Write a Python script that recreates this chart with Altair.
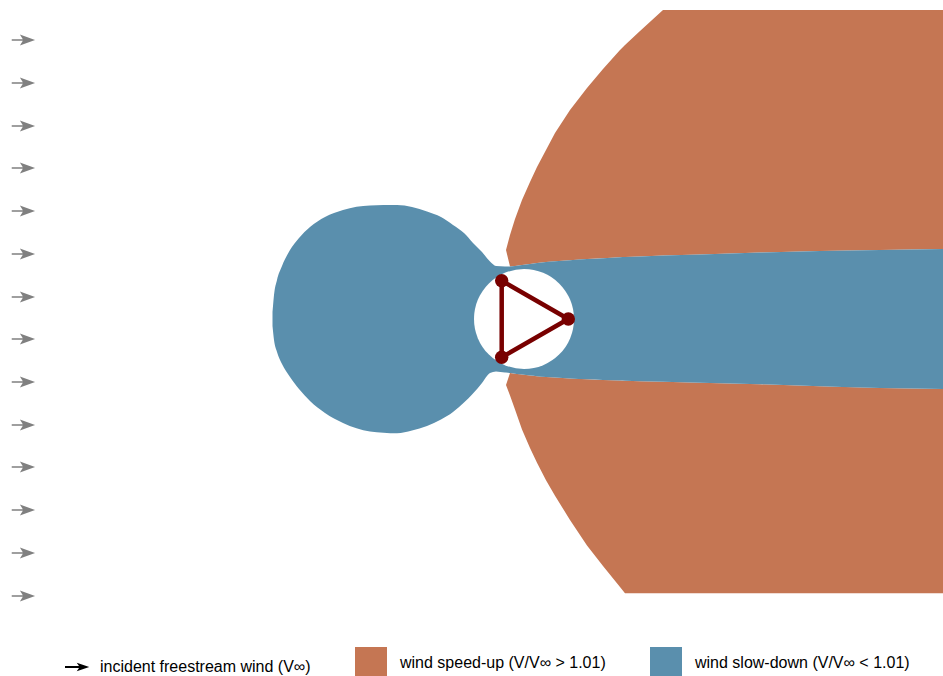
import altair as alt
import pandas as pd

# Plane around the three-turbine array, in metres relative to the array centre
# (x downstream, y lateral). One metre maps to one pixel of the plot area.
X_DOMAIN = [-524, 419]
Y_DOMAIN = [-357, 319]

# Legend categories and their colours
KINDS = [
    "incident freestream wind (V∞)",
    "wind speed-up (V/V∞ > 1.01)",
    "wind slow-down (V/V∞ < 1.01)",
]
COLORS = ["#000000", "#C57653", "#5A8FAD"]
SPEED_UP, SLOW_DOWN = COLORS[1], COLORS[2]

# Slow-down bulb upstream of the array, up to the neck beside the rotor disc
bulb_x = [-251.5, -250, -247, -242, -234, -225, -214, -199, -181, -154, -127,
          -112, -97, -83, -71, -60, -51, -42, -34, -28, -19]
bulb_top = [7, 24, 39, 53, 69, 81, 92, 102, 109, 113.5, 114,
            112, 107.5, 102, 94, 86, 76, 67, 57.5, 53, 52.5]
bulb_bot = [-7, -21, -33, -45, -58, -70, -82, -94, -104, -112.5, -114.3,
            -111.5, -107, -100.5, -93, -83.5, -74.5, -64, -54, -52.5, -53.5]

# Downstream wake (slow-down) edges
wake_x = [-18, -14, -9, -2, 6, 13, 22, 31, 46, 63, 79, 96, 101, 116, 139,
          176, 236, 296, 356, 419]
wake_top = [52.5, 52.5, 53, 54, 55, 56, 57, 57.7, 58.8, 60, 60.8, 61.7, 61.9,
            62.5, 63.4, 64.5, 66.5, 68, 69, 70]
wake_bot = [-53.5, -54, -54.7, -55.6, -56.5, -57.2, -58, -58.6, -59.5, -60.3,
            -61, -61.6, -61.8, -62.2, -62.8, -63.7, -65.3, -67.2, -69, -70]

# Outer edges of the two speed-up lobes on the wake grid, and the corner
# where each lobe meets the wake
north_outer = [69, 84, 100, 119, 137, 152, 169, 186, 209, 231, 250, 269, 274,
               288, 309, 309, 309, 309, 309, 309]
south_outer = [-66, -76.5, -90.5, -110.6, -129, -143.7, -161.3, -176.7, -201,
               -226.5, -247, -268.1, -274.3, -274.3, -274.3, -274.3, -274.3,
               -274.3, -274.3, -274.3]
north_corner = 69
south_corner = -66

# Cleared disc around the turbines and the turbine positions
clear_x, clear_y, clear_r = [0], [0], 50
turb_x = [-22.3, 44.3, -22.3]
turb_y = [38.3, 0, -38.3]

# Incident freestream arrows along the inflow boundary
arrow_x = [-500.6] * 14
arrow_y = [279, 236, 193, 151, 108, 65, 22, -20, -63, -106, -148, -191, -234, -277]

ARROW = "M-1,-0.065L-0.05,-0.065L-0.3,-0.47L1,0L-0.3,0.47L-0.05,0.065L-1,0.065Z"
KEY_ARROW = "M-0.375,-0.06L0.5,-0.06L0.36,-0.26L1.14,0L0.36,0.26L0.5,0.06L-0.375,0.06Z"
KEY_SHAPES = [KEY_ARROW, "square", "square"]

TURBINE = "#780000"
ARROW_GREY = "#808080"

# ---- tables ----
blue_df = pd.DataFrame({
    "x": bulb_x + wake_x,
    "top": bulb_top + wake_top,
    "bot": bulb_bot + wake_bot,
})
north_df = pd.DataFrame({
    "x": wake_x, "top": north_outer, "bot": [north_corner] + wake_top[1:],
})
south_df = pd.DataFrame({
    "x": wake_x, "top": [south_corner] + wake_bot[1:], "bot": south_outer,
})
clear_df = pd.DataFrame({"x": clear_x, "y": clear_y})
loop_df = pd.DataFrame({
    "x": turb_x + turb_x[:1], "y": turb_y + turb_y[:1], "i": list(range(4)),
})
turb_df = pd.DataFrame({"x": turb_x, "y": turb_y})
arrow_df = pd.DataFrame({"x": arrow_x, "y": arrow_y})
key_df = pd.DataFrame({"kind": KINDS})

xs = alt.Scale(domain=X_DOMAIN, nice=False, zero=False)
ys = alt.Scale(domain=Y_DOMAIN, nice=False, zero=False)
cs = alt.Scale(domain=KINDS, range=COLORS)

X = alt.X("x:Q", scale=xs, axis=None)
Y = alt.Y("y:Q", scale=ys, axis=None)


def region(df, colour, interp):
    return alt.Chart(df).mark_area(
        interpolate=interp, color=colour, opacity=1
    ).encode(
        x=X,
        y=alt.Y("top:Q", scale=ys, axis=None),
        y2="bot:Q",
    )


north = region(north_df, SPEED_UP, "linear")
south = region(south_df, SPEED_UP, "linear")
blue = region(blue_df, SLOW_DOWN, "monotone")

# White disc around the rotors (circle symbol diameter = sqrt(size) px)
clear = alt.Chart(clear_df).mark_point(
    shape="circle", filled=True, color="white", opacity=1, strokeWidth=0,
    size=(2 * clear_r) ** 2,
).encode(x=X, y=Y)

loop = alt.Chart(loop_df).mark_line(
    color=TURBINE, strokeWidth=4.5, strokeJoin="round"
).encode(x=X, y=Y, order="i:Q")

turbines = alt.Chart(turb_df).mark_circle(
    color=TURBINE, size=180, opacity=1
).encode(x=X, y=Y)

arrows = alt.Chart(arrow_df).mark_point(
    shape=ARROW, filled=True, color=ARROW_GREY, opacity=1, strokeWidth=0, size=545
).encode(x=X, y=Y)

legend = alt.Legend(
    title=None, orient="none", legendX=55, legendY=647, direction="horizontal",
    symbolSize=1024, symbolStrokeWidth=0, labelOffset=13, columnPadding=44,
    labelFont="Liberation Sans", labelFontSize=16, labelColor="#000000",
    labelLimit=400, padding=0,
)

# Legend keys only; the marks themselves sit off the canvas
keys = alt.Chart(key_df).mark_point(filled=True, opacity=1, strokeWidth=0).encode(
    x=alt.value(-300),
    y=alt.value(-300),
    color=alt.Color("kind:N", scale=cs, legend=legend),
    shape=alt.Shape("kind:N", scale=alt.Scale(domain=KINDS, range=KEY_SHAPES),
                    legend=legend),
)

chart = alt.layer(
    north, south, blue, clear, loop, turbines, arrows, keys
).properties(
    width=943, height=676, padding=0,
    autosize=alt.AutoSizeParams(type="none"),
    background="white",
).configure_view(stroke=None)

chart.save("out.html", embed_options={"renderer": "svg", "actions": False})
